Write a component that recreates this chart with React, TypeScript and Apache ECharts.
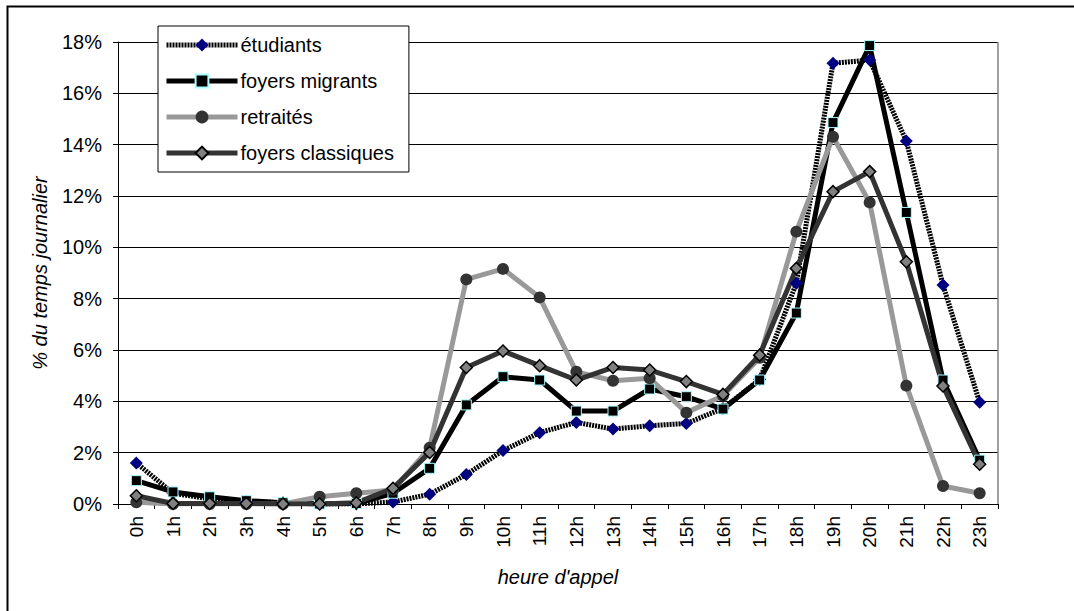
import React, { useEffect, useRef } from "react";
import * as echarts from "echarts";

const hours = ["0h","1h","2h","3h","4h","5h","6h","7h","8h","9h","10h","11h","12h","13h","14h","15h","16h","17h","18h","19h","20h","21h","22h","23h"];
const etudiants = [1.6, 0.42, 0.2, 0.1, 0.05, 0.0, 0.0, 0.08, 0.38, 1.15, 2.08, 2.78, 3.18, 2.92, 3.05, 3.14, 3.72, 4.85, 8.6, 17.17, 17.3, 14.14, 8.53, 3.96];
const migrants = [0.91, 0.47, 0.28, 0.13, 0.05, 0.0, 0.02, 0.42, 1.39, 3.86, 4.96, 4.83, 3.62, 3.62, 4.48, 4.18, 3.7, 4.83, 7.44, 14.86, 17.86, 11.36, 4.83, 1.71];
const retraites = [0.07, 0.0, 0.0, 0.0, 0.0, 0.28, 0.42, 0.55, 2.19, 8.75, 9.16, 8.05, 5.15, 4.8, 4.9, 3.56, 4.22, 5.7, 10.61, 14.31, 11.75, 4.61, 0.7, 0.42];
const classiques = [0.32, 0.02, 0.02, 0.02, 0.0, 0.0, 0.05, 0.61, 2.01, 5.32, 5.96, 5.39, 4.83, 5.32, 5.22, 4.77, 4.27, 5.8, 9.18, 12.17, 12.95, 9.44, 4.6, 1.55];
const seriesNames = ["étudiants", "foyers migrants", "retraités", "foyers classiques"];

const FONT = "'Liberation Sans', Arial, sans-serif";

export default function App() {
  const ref = useRef<HTMLDivElement>(null);
  useEffect(() => {
    if (!ref.current) return;
    const chart = echarts.init(ref.current, null, { renderer: "svg" });
    const etuLine = { color: "#000", width: 5, type: [2, 1] };
    chart.setOption({
      animation: false,
      backgroundColor: "#fff",
      textStyle: { fontFamily: FONT },
      grid: { left: 118, right: 76, top: 42, bottom: 107 },
      graphic: [
        {
          type: "rect",
          left: 5,
          top: 4,
          shape: { width: 1100, height: 640 },
          style: { fill: "none", stroke: "#000", lineWidth: 2 },
          silent: true,
          z: -10,
        },
        {
          type: "line",
          shape: { x1: 998, y1: 42, x2: 998, y2: 504 },
          style: { stroke: "#808080", lineWidth: 1.5 },
          z: 1,
        },
      ],
      legend: {
        orient: "vertical",
        left: 158,
        top: 26,
        data: [
          { name: seriesNames[0], lineStyle: etuLine },
          { name: seriesNames[1], lineStyle: { width: 5 } },
          { name: seriesNames[2], lineStyle: { width: 5 } },
          { name: seriesNames[3], lineStyle: { width: 5 } },
        ],
        itemWidth: 71,
        itemHeight: 16,
        itemGap: 16,
        padding: [9, 15, 9, 6],
        backgroundColor: "#fff",
        borderColor: "#000",
        borderWidth: 1,
        textStyle: { fontSize: 20, color: "#000", fontFamily: FONT, padding: [0, 0, 0, -2] },
        z: 10,
      },
      xAxis: {
        type: "category",
        data: hours,
        boundaryGap: true,
        name: "heure d'appel",
        nameLocation: "middle",
        nameGap: 63,
        nameTextStyle: { fontSize: 20, fontStyle: "italic", color: "#000", fontFamily: FONT },
        axisLine: { lineStyle: { color: "#000", width: 1 } },
        axisTick: { show: true, alignWithLabel: false, length: 5, inside: false, lineStyle: { color: "#000" } },
        axisLabel: { rotate: 90, fontSize: 19, color: "#000", margin: 12, fontFamily: FONT },
        splitLine: { show: false },
      },
      yAxis: {
        type: "value",
        min: 0,
        max: 18,
        interval: 2,
        name: "% du temps journalier",
        nameLocation: "middle",
        nameGap: 68,
        nameTextStyle: { fontSize: 20, fontStyle: "italic", color: "#000", fontFamily: FONT },
        axisLine: { show: true, lineStyle: { color: "#000", width: 1 } },
        axisTick: { show: true, length: 5, lineStyle: { color: "#000" } },
        axisLabel: { formatter: "{value}%", fontSize: 20, color: "#000", margin: 16, fontFamily: FONT },
        splitLine: { show: true, lineStyle: { color: "#000", width: 1 } },
      },
      series: [
        {
          name: "étudiants",
          type: "line",
          data: etudiants,
          symbol: "diamond",
          symbolSize: 13,
          itemStyle: { color: "#000080", borderWidth: 0 },
          lineStyle: etuLine,
        },
        {
          name: "foyers migrants",
          type: "line",
          data: migrants,
          symbol: "rect",
          symbolSize: 10,
          itemStyle: { color: "#000", borderColor: "#aaffff", borderWidth: 1 },
          lineStyle: { color: "#000", width: 5 },
        },
        {
          name: "retraités",
          type: "line",
          data: retraites,
          symbol: "circle",
          symbolSize: 12,
          itemStyle: { color: "#333333", borderWidth: 0 },
          lineStyle: { color: "#999999", width: 5 },
        },
        {
          name: "foyers classiques",
          type: "line",
          data: classiques,
          symbol: "diamond",
          symbolSize: 12,
          itemStyle: { color: "#808080", borderColor: "#000", borderWidth: 1.5 },
          lineStyle: { color: "#333333", width: 5 },
        },
      ],
    });
    return () => chart.dispose();
  }, []);
  return (
    <div
      ref={ref}
      style={{ position: "absolute", left: 0, top: 0, width: 1074, height: 611 }}
    />
  );
}
